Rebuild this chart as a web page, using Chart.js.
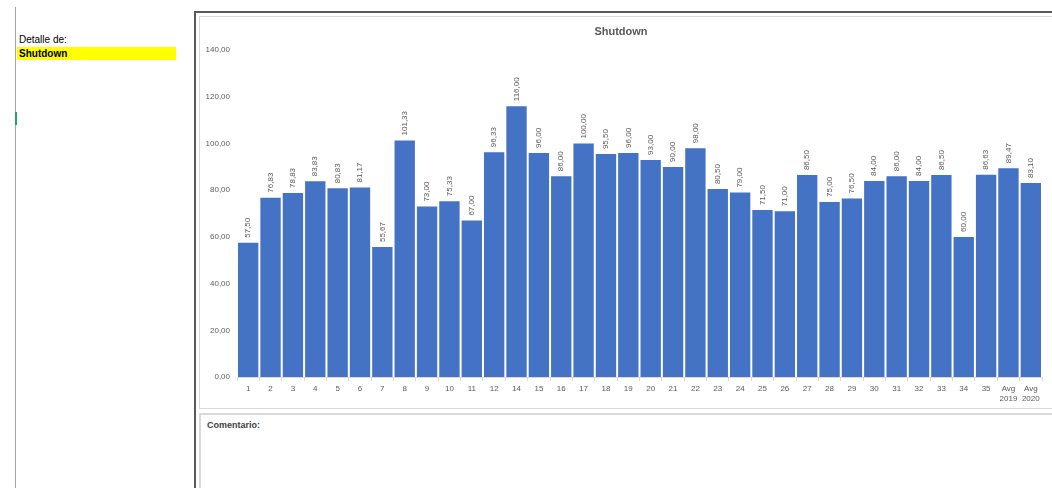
<!DOCTYPE html>
<html>
<head>
<meta charset="utf-8">
<script src="https://cdn.jsdelivr.net/npm/chart.js@4/dist/chart.umd.min.js"></script>
<style>
  html, body { margin: 0; padding: 0; background: #fff; width: 1052px; height: 488px; overflow: hidden; position: relative; font-family: "Liberation Sans", Arial, sans-serif; }
  .abs { position: absolute; }
  #leftline { left: 15px; top: 7px; width: 1px; height: 481px; background: #a6a6a6; }
  #leftgreen { left: 15px; top: 112px; width: 2px; height: 13px; background: #21a366; }
  #detalle { left: 19px; top: 34px; font-size: 10px; color: #000; }
  #yellow { left: 17px; top: 47px; width: 159px; height: 13px; background: #ffff00; }
  #yellow span { position: absolute; left: 2px; top: 0px; font-size: 10px; font-weight: bold; color: #000; line-height: 13px; }
  #frame { left: 194px; top: 11px; width: 900px; height: 600px; border-left: 2px solid #595959; border-top: 2px solid #595959; }
  #chartbox { left: 199px; top: 16px; width: 900px; height: 391px; border: 1px solid #d9d9d9; }
  #chartwrap { left: 200px; top: 18px; width: 852px; height: 390px; }
  #comment { left: 199px; top: 413px; width: 900px; height: 120px; border: 2px solid #d9d9d9; }
  #comment span { position: absolute; left: 6px; top: 5px; font-size: 9px; font-weight: bold; color: #404040; }
</style>
</head>
<body>
<div id="leftline" class="abs"></div>
<div id="leftgreen" class="abs"></div>
<div id="detalle" class="abs">Detalle de:</div>
<div id="yellow" class="abs"><span>Shutdown</span></div>
<div id="frame" class="abs"></div>
<div id="chartbox" class="abs"></div>
<div id="comment" class="abs"><span>Comentario:</span></div>
<div id="chartwrap" class="abs"><canvas id="c" width="852" height="390"></canvas></div>
<script>
const chartTitle = 'Shutdown';
const categories = ['1','2','3','4','5','6','7','8','9','10','11','12','14','15','16','17','18','19','20','21','22','23','24','25','26','27','28','29','30','31','32','33','34','35',['Avg','2019'],['Avg','2020']];
const shutdownValues = [57.50, 76.83, 78.83, 83.83, 80.83, 81.17, 55.67, 101.33, 73.00, 75.33, 67.00, 96.33, 116.00, 96.00, 86.00, 100.00, 95.50, 96.00, 93.00, 90.00, 98.00, 80.50, 79.00, 71.50, 71.00, 86.50, 75.00, 76.50, 84.00, 86.00, 84.00, 86.50, 60.00, 86.63, 89.47, 83.10];
const yTicks = [0, 20, 40, 60, 80, 100, 120, 140];

const fmt = v => v.toFixed(2).replace('.', ',');
const FONT = "'Liberation Sans', Arial, sans-serif";
const GRAY = '#595959';

const dataLabels = {
  id: 'dataLabels',
  afterDatasetsDraw(chart) {
    const ctx = chart.ctx;
    const meta = chart.getDatasetMeta(0);
    ctx.save();
    ctx.font = "8px " + FONT;
    ctx.fillStyle = GRAY;
    ctx.textAlign = 'left';
    ctx.textBaseline = 'middle';
    meta.data.forEach((el, i) => {
      ctx.save();
      ctx.translate(el.x, el.y - 5);
      ctx.rotate(-Math.PI / 2);
      ctx.fillText(fmt(shutdownValues[i]), 0, 0);
      ctx.restore();
    });
    ctx.restore();
  }
};

new Chart(document.getElementById('c'), {
  type: 'bar',
  data: {
    labels: categories,
    datasets: [{
      label: chartTitle,
      data: shutdownValues,
      backgroundColor: '#4472C4',
      borderWidth: 0,
      barPercentage: 0.91,
      categoryPercentage: 1.0
    }]
  },
  options: {
    responsive: false,
    animation: false,
    layout: { padding: { left: 0, right: 10, top: 0, bottom: 0 } },
    plugins: {
      legend: { display: false },
      tooltip: { enabled: false },
      title: {
        display: true,
        text: chartTitle,
        color: GRAY,
        font: { family: FONT, size: 11, weight: 'bold' },
        padding: { top: 7, bottom: 12 }
      }
    },
    scales: {
      x: {
        offset: true,
        grid: { display: true, drawOnChartArea: false, drawTicks: true, tickLength: 4, color: '#d9d9d9', offset: true },
        border: { display: true, color: '#d9d9d9' },
        ticks: { autoSkip: false, maxRotation: 0, minRotation: 0, color: GRAY, font: { family: FONT, size: 8 }, padding: 3 },
        afterFit(scale) { scale.height = 31; }
      },
      y: {
        min: 0, max: 140,
        afterBuildTicks(scale) { scale.ticks = yTicks.map(v => ({ value: v })); },
        grid: { display: false, drawTicks: false },
        border: { display: false },
        ticks: { color: GRAY, font: { family: FONT, size: 8 }, padding: 7, callback: v => fmt(v) },
        afterFit(scale) { scale.width = 37; }
      }
    }
  },
  plugins: [dataLabels]
});
</script>
</body>
</html>
